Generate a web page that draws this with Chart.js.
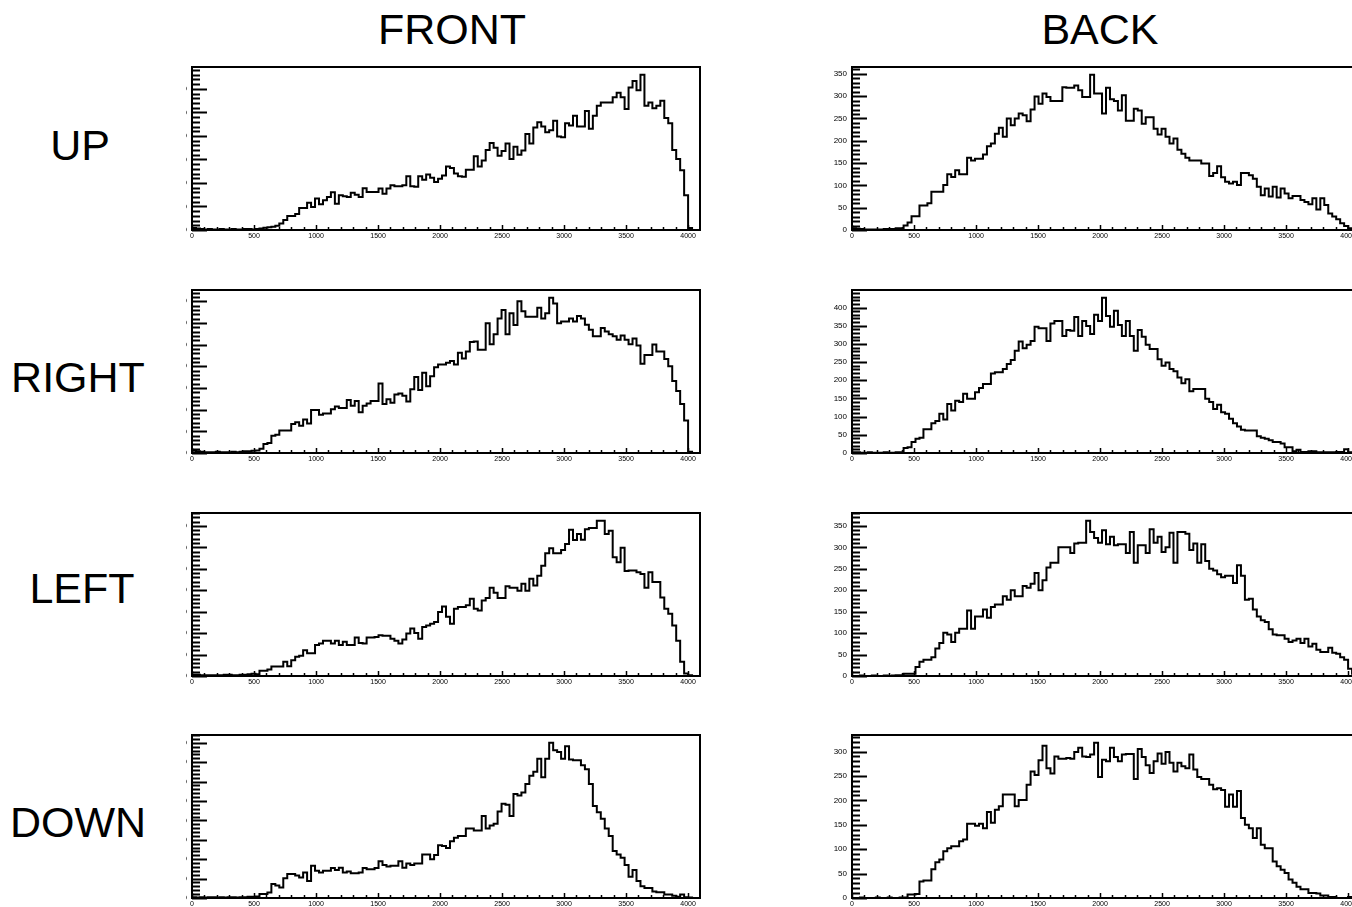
<!DOCTYPE html>
<html>
<head>
<meta charset="utf-8">
<title>FRONT / BACK</title>
<script src="https://cdn.jsdelivr.net/npm/chart.js@4.4.1/dist/chart.umd.min.js"></script>
<style>
  html, body { margin: 0; padding: 0; background: #fff; }
  body { width: 1352px; height: 907px; position: relative; overflow: hidden; font-family: 'Liberation Sans', Arial, sans-serif; }
  .label { position: absolute; width: 200px; text-align: center; font-size: 43px; line-height: 43px; color: #000; white-space: nowrap; }
  .panel { position: absolute; overflow: hidden; }
  .panel canvas { position: absolute; top: 0; }
</style>
</head>
<body>
<script>
'use strict';

// 128 bins of 32 ADC counts each, 0..4096
const binWidth = 32;
const xMax = 4096;
const xTicks = [0, 500, 1000, 1500, 2000, 2500, 3000, 3500, 4000];
const yStep = 50;

const columns = ['FRONT', 'BACK'];
const rows = ['UP', 'RIGHT', 'LEFT', 'DOWN'];

const frontUp = [
  4, 3, 2, 1, 2, 1, 1, 2, 1, 1, 2, 1, 1, 2, 2, 1, 2,
  3, 5, 6, 7, 9, 14,
  21, 30, 30, 34, 47, 47, 58, 49, 67, 55, 63, 70, 80, 56, 74, 72, 70, 79, 75, 70, 89, 81, 81, 81,
  88, 77, 88, 95, 93, 93, 95, 114, 93, 92, 114, 107, 118, 111, 102, 109, 116, 135, 132, 120,
  114, 113, 128, 128, 157, 135, 148, 170, 185, 175, 158, 168, 184, 151, 177, 160, 169, 204,
  184, 218, 229, 220, 208, 212,
  232, 199, 197, 227, 222, 243, 220, 220, 253, 215, 243, 264, 271, 271, 271, 282, 292, 282,
  257, 303, 317, 297, 330, 264, 271, 259, 264, 275, 238, 227, 170, 151, 127, 74,
  4, 0, 0
];

const frontRight = [
  5, 4, 3, 2, 2, 2, 3, 2, 2, 2, 3, 2, 3, 4,
  4, 5, 6, 10, 21, 23, 40, 42, 52, 52,
  52, 67, 71, 63, 77, 68, 99, 99, 88, 91,
  91, 101, 107, 104, 104, 122, 109, 120, 94, 109,
  114, 120, 120, 160, 113, 124, 116, 135, 137, 132,
  119, 147, 175, 145, 185, 154, 177, 198, 204, 204,
  208, 212, 204, 231, 218, 234, 256, 257, 238, 238,
  299, 251, 274, 310, 330, 274, 322, 295, 350, 327,
  314, 314, 314, 335, 310, 322, 358, 345, 299, 303,
  303, 310, 303, 316, 310, 296, 284, 269, 269, 288, 280,
  274, 269, 261, 271, 261, 251, 264, 248, 206, 226, 226, 250, 234, 234, 217, 200, 166, 143,
  113, 75, 3, 0, 0
];

const frontLeft = [
  3, 3, 2, 2, 2, 2, 2, 2, 3, 3, 2, 2, 3, 3, 4, 5, 4,
  12, 12, 15, 22, 22, 22, 33, 23, 37, 45,
  47, 60, 53, 53, 72, 76, 82, 82, 76, 82,
  72, 80, 72, 72, 90, 77, 76, 90, 90, 91,
  95, 94, 94, 87, 82, 76, 85, 99, 111, 100,
  87, 114, 118, 122, 126, 149, 162, 138, 122, 157,
  161, 161, 165, 180, 157, 153, 176, 182, 206, 194,
  182, 182, 209, 206, 206, 199, 215, 199, 227, 211,
  234, 257, 286, 298, 286, 286, 294, 308, 341, 317,
  331, 318, 342, 345, 345, 362, 362, 331, 339, 277,
  265, 299, 245, 246, 246, 242, 238, 206, 242, 219,
  219, 183, 157, 145, 118, 82, 33, 6, 2, 0, 0
];

const frontDown = [
  2, 1, 2, 1, 2, 2, 1, 2, 1, 2, 2, 1, 2, 2, 3, 3, 4,
  10, 10, 14, 36, 32, 27, 51, 62, 62, 58,
  53, 66, 44, 83, 70, 66, 70, 70, 77, 72,
  78, 66, 68, 64, 64, 66, 77, 74, 74, 77,
  95, 85, 81, 83, 83, 95, 78, 89, 85, 89,
  89, 112, 112, 100, 111, 136, 134, 129, 146, 155,
  160, 160, 179, 179, 174, 174, 211, 179, 187, 191,
  223, 243, 240, 211, 268, 264, 272, 294, 315, 325,
  359, 311, 359, 400, 381, 376, 359, 391, 357, 355,
  355, 342, 332, 294, 237, 221, 204, 179, 160, 121,
  112, 104, 85, 55, 72, 44, 30, 26, 26, 17,
  15, 15, 9, 9, 6, 3, 9, 2, 1, 0, 0
];

const backUp = [
  4, 3, 2, 1, 1, 1, 1, 1, 2, 2, 2, 4, 4,
  10, 17, 31, 31, 55, 55, 60, 86, 86, 86,
  101, 125, 119, 134, 125, 125, 162, 156, 160, 160,
  169, 188, 194, 216, 229, 209, 250, 235, 250, 261,
  257, 244, 270, 299, 283, 306, 298, 289, 289, 289,
  320, 319, 319, 324, 313, 298, 298, 348, 306, 306,
  261, 319, 293, 289, 268, 302, 245, 245, 272, 268,
  238, 253, 253, 227, 214, 227, 209, 194, 205, 180,
  171, 162, 156, 156, 156, 149, 149, 121, 128, 143,
  118, 108, 104, 108, 101, 128, 128, 123, 115, 97,
  78, 93, 75, 97, 73, 93, 82, 71, 76, 76,
  67, 63, 58, 71, 46, 71, 56, 37, 30, 24,
  15, 9, 4, 4, 3
];

const backRight = [
  2, 2, 1, 1, 2, 1, 1, 1, 2, 1, 1, 2, 2,
  14, 16, 30, 39, 42, 65, 65, 82, 88, 108,
  92, 135, 117, 144, 140, 163, 149, 149, 167, 179,
  190, 190, 219, 222, 222, 231, 245, 256, 281, 307,
  288, 298, 308, 347, 343, 343, 308, 356, 363, 363,
  322, 338, 336, 374, 322, 363, 349, 327, 380, 363,
  427, 377, 347, 391, 352, 322, 363, 322, 281, 338,
  320, 298, 286, 286, 258, 240, 249, 231, 225, 208,
  192, 203, 170, 176, 176, 176, 149, 140, 121, 133,
  112, 108, 94, 82, 73, 64, 62, 62, 62, 46,
  42, 39, 35, 30, 30, 26, 16, 16, 5, 9,
  3, 3, 5, 5, 2, 2, 2, 2, 2, 3,
  3, 10, 2, 1, 0
];

const backLeft = [
  0, 0, 1, 0, 0, 1, 0, 0, 1, 0, 1, 2, 2,
  5, 5, 5, 21, 33, 38, 38, 44, 64, 77,
  101, 97, 79, 101, 110, 110, 153, 110, 139, 139,
  155, 136, 161, 167, 167, 186, 178, 200, 186, 186,
  210, 206, 215, 240, 200, 223, 253, 264, 264, 300,
  300, 300, 287, 309, 311, 311, 362, 336, 322, 311,
  340, 307, 325, 305, 307, 307, 287, 336, 264, 305,
  305, 287, 342, 311, 325, 289, 300, 334, 264, 336,
  336, 332, 294, 309, 264, 307, 268, 250, 246, 237,
  230, 234, 234, 217, 258, 234, 178, 180, 155, 139,
  130, 126, 109, 97, 95, 95, 87, 79, 83, 87,
  77, 87, 69, 75, 61, 56, 56, 66, 54, 52,
  44, 38, 17, 5, 5
];

const backDown = [
  0, 0, 1, 0, 0, 0, 1, 0, 0, 1, 0, 0, 1,
  1, 7, 7, 8, 34, 36, 36, 59, 73, 79,
  96, 102, 106, 106, 116, 120, 152, 152, 148, 152,
  143, 176, 154, 181, 188, 212, 212, 212, 188, 201,
  201, 232, 259, 252, 282, 312, 266, 255, 290, 285,
  285, 287, 285, 299, 308, 290, 289, 294, 318, 248,
  283, 280, 308, 289, 280, 294, 295, 295, 244, 305,
  289, 272, 256, 280, 296, 275, 299, 277, 259, 277,
  270, 266, 294, 263, 248, 244, 244, 232, 223, 225,
  221, 187, 212, 187, 219, 164, 150, 143, 123, 143,
  109, 102, 102, 75, 65, 58, 51, 38, 31, 23,
  18, 18, 10, 10, 9, 5, 5, 2, 2, 0,
  0, 0, 2, 2, 2
];

// [column][row]
const panels = [
  [frontUp, frontRight, frontLeft, frontDown],
  [backUp, backRight, backLeft, backDown]
];

// page layout
const plotLeft = [192, 852];
const plotTop = [67, 290, 513, 735];
const plotW = 508;
const plotH = 163;
const axisW = 50;
const axisH = 20;
const padTop = 4;
const padRight = 4;
const labelSize = 43;
const colCenter = [452, 1100];
const rowCenter = [145, 377, 588, 822];
const rowLabelX = [80, 78, 82, 78];

function addLabel(text, cx, cy) {
  const el = document.createElement('div');
  el.className = 'label';
  el.textContent = text;
  el.style.left = (cx - 100) + 'px';
  // cap-height centre sits about 0.49 em below the box top
  el.style.top = (cy - 0.4885 * labelSize) + 'px';
  document.body.appendChild(el);
}

columns.forEach((name, c) => addLabel(name, colCenter[c], 29));
rows.forEach((name, r) => addLabel(name, rowLabelX[r], rowCenter[r]));

function histPoints(values) {
  const pts = values.map((v, i) => ({ x: i * binWidth, y: v }));
  pts.push({ x: values.length * binWidth, y: values[values.length - 1] });
  return pts;
}

// keep the frame exactly where layout puts it, no room made for edge labels
function noPadding(s) {
  s.paddingTop = 0;
  s.paddingBottom = 0;
  s.paddingLeft = 0;
  s.paddingRight = 0;
}

// frame box plus ROOT-like tick marks drawn inside the frame
const frameTicks = {
  id: 'frameTicks',
  afterDatasetsDraw(chart) {
    const { ctx, chartArea: a, scales: { x, y } } = chart;
    ctx.save();
    ctx.strokeStyle = '#000';

    ctx.lineWidth = 2;
    ctx.beginPath();
    const minorY = yStep / 5;
    for (let k = 0; k * minorY <= y.max; k++) {
      const py = Math.round(y.getPixelForValue(k * minorY)) + 0.5;
      const len = k % 5 === 0 ? 15 : 8;
      ctx.moveTo(a.left, py);
      ctx.lineTo(a.left + len, py);
    }
    ctx.stroke();

    ctx.lineWidth = 1.5;
    ctx.beginPath();
    for (let k = 0; k * 100 <= x.max; k++) {
      const px = Math.round(x.getPixelForValue(k * 100)) + 0.5;
      const len = k % 5 === 0 ? 5 : 3;
      ctx.moveTo(px, a.bottom);
      ctx.lineTo(px, a.bottom - len);
    }
    ctx.stroke();

    ctx.lineWidth = 2;
    ctx.strokeRect(a.left, a.top, a.right - a.left, a.bottom - a.top);
    ctx.restore();
  }
};

function makePanel(values, c, r) {
  const left = plotLeft[c];
  const top = plotTop[r];
  // front panels have their value labels cut off just left of the frame
  const clipLeft = c === 0 ? left - 6 : left - axisW;

  const box = document.createElement('div');
  box.className = 'panel';
  box.style.left = clipLeft + 'px';
  box.style.top = (top - padTop) + 'px';
  box.style.width = (left + plotW + padRight - clipLeft) + 'px';
  box.style.height = (padTop + plotH + axisH) + 'px';

  const canvas = document.createElement('canvas');
  canvas.width = axisW + plotW + padRight;
  canvas.height = padTop + plotH + axisH;
  canvas.style.left = (left - axisW - clipLeft) + 'px';
  box.appendChild(canvas);
  document.body.appendChild(box);

  const yMax = Math.max(...values) * 1.05;
  const yTicks = [];
  for (let v = 0; v <= yMax; v += yStep) yTicks.push(v);

  new Chart(canvas.getContext('2d'), {
    type: 'line',
    data: {
      datasets: [{
        data: histPoints(values),
        borderColor: '#000',
        borderWidth: 2,
        pointRadius: 0,
        stepped: true,
        fill: false
      }]
    },
    options: {
      responsive: false,
      animation: false,
      devicePixelRatio: 1,
      layout: { padding: { top: padTop, right: padRight, left: 0, bottom: 0 } },
      plugins: { legend: { display: false }, tooltip: { enabled: false } },
      scales: {
        x: {
          type: 'linear',
          min: 0,
          max: xMax,
          grid: { display: false, drawTicks: false },
          border: { display: false },
          afterBuildTicks: s => { s.ticks = xTicks.map(v => ({ value: v })); },
          afterFit: s => { s.height = axisH; noPadding(s); },
          ticks: {
            color: '#000',
            padding: 2,
            maxRotation: 0,
            autoSkip: false,
            font: { family: 'Liberation Sans', size: 7 },
            callback: v => String(v)
          }
        },
        y: {
          min: 0,
          max: yMax,
          grid: { display: false, drawTicks: false },
          border: { display: false },
          afterBuildTicks: s => { s.ticks = yTicks.map(v => ({ value: v })); },
          afterFit: s => { s.width = axisW; noPadding(s); },
          ticks: {
            color: '#000',
            padding: 5,
            autoSkip: false,
            font: { family: 'Liberation Sans', size: 8 },
            callback: v => String(v)
          }
        }
      }
    },
    plugins: [frameTicks]
  });
}

panels.forEach((col, c) => col.forEach((values, r) => makePanel(values, c, r)));
</script>
</body>
</html>
